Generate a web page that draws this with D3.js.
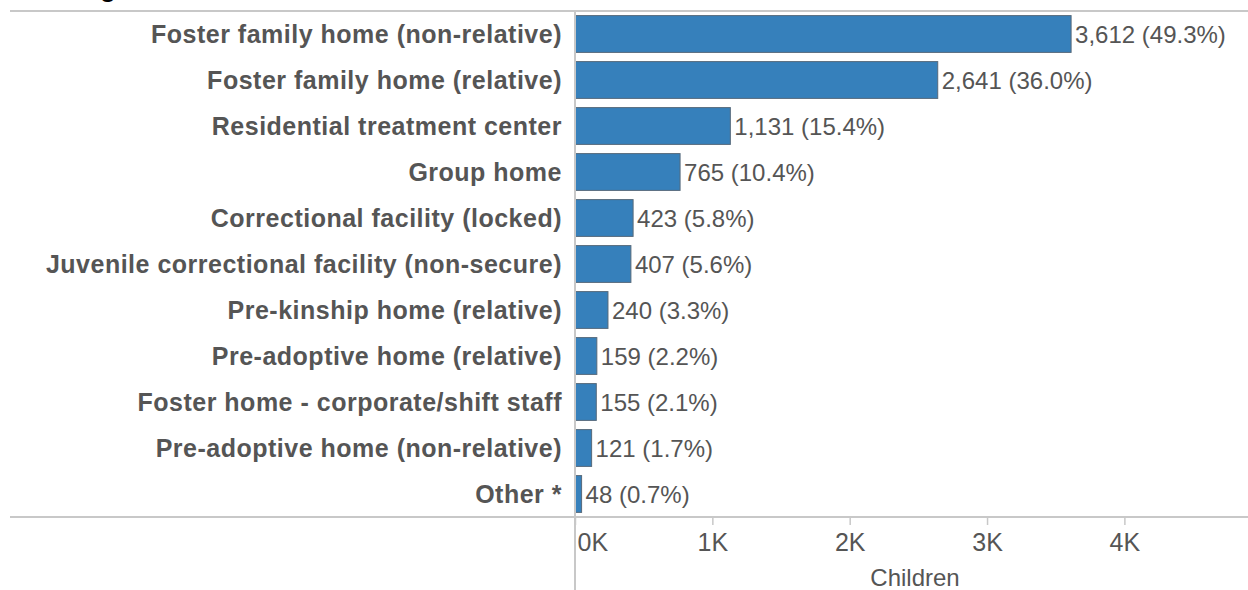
<!DOCTYPE html>
<html>
<head>
<meta charset="utf-8">
<script src="https://cdn.jsdelivr.net/npm/d3@7"></script>
<style>
  body { margin: 0; background: #fff; }
  text { font-family: Arial, "Liberation Sans", sans-serif; }
</style>
</head>
<body>
<script>
var categories = [
  "Foster family home (non-relative)",
  "Foster family home (relative)",
  "Residential treatment center",
  "Group home",
  "Correctional facility (locked)",
  "Juvenile correctional facility (non-secure)",
  "Pre-kinship home (relative)",
  "Pre-adoptive home (relative)",
  "Foster home - corporate/shift staff",
  "Pre-adoptive home (non-relative)",
  "Other *"
];
var children = [3612, 2641, 1131, 765, 423, 407, 240, 159, 155, 121, 48];
var percents = ["49.3%", "36.0%", "15.4%", "10.4%", "5.8%", "5.6%", "3.3%", "2.2%", "2.1%", "1.7%", "0.7%"];
var tickValues = [0, 1000, 2000, 3000, 4000];

var width = 1248,
    height = 590;

var svg = d3.select("body").append("svg")
  .attr("width", width)
  .attr("height", height);

var x = d3.scaleLinear()
  .domain([0, 4900])
  .range([575, 1248]);

var y = d3.scaleBand()
  .domain(categories)
  .range([11, 517])
  .paddingInner(0.2)
  .paddingOuter(0.1);

// cropped title, only the descender shows
svg.append("text")
  .attr("x", 100)
  .attr("y", -3)
  .attr("font-size", 26)
  .attr("font-weight", "bold")
  .attr("fill", "#000")
  .text("g");

// frame lines
svg.append("line")
  .attr("x1", 10).attr("x2", width)
  .attr("y1", 11).attr("y2", 11)
  .attr("stroke", "#c8c8c8").attr("stroke-width", 2);
svg.append("line")
  .attr("x1", 10).attr("x2", width)
  .attr("y1", 517).attr("y2", 517)
  .attr("stroke", "#c8c8c8").attr("stroke-width", 2);

var data = categories.map(function(c, i) {
  return {name: c, value: children[i], pct: percents[i]};
});

svg.append("g")
  .selectAll("rect")
  .data(data)
  .enter()
.append("rect")
  .attr("x", x(0))
  .attr("y", function(d) { return y(d.name); })
  .attr("width", function(d) { return x(d.value) - x(0); })
  .attr("height", y.bandwidth())
  .attr("fill", "#3680bb")
  .attr("stroke", "#56697a")
  .attr("stroke-width", 1);

// category labels
svg.append("g")
  .selectAll("text")
  .data(data)
  .enter()
.append("text")
  .attr("x", 562)
  .attr("y", function(d) { return y(d.name) + y.bandwidth() / 2; })
  .attr("dy", "0.36em")
  .attr("text-anchor", "end")
  .attr("font-size", 25)
  .attr("letter-spacing", 0.5)
  .attr("font-weight", "bold")
  .attr("fill", "#555")
  .text(function(d) { return d.name; });

// value labels
svg.append("g")
  .selectAll("text")
  .data(data)
  .enter()
.append("text")
  .attr("x", function(d) { return x(d.value) + 4; })
  .attr("y", function(d) { return y(d.name) + y.bandwidth() / 2; })
  .attr("dy", "0.36em")
  .attr("font-size", 24)
  .attr("fill", "#555")
  .text(function(d) { return d3.format(",")(d.value) + " (" + d.pct + ")"; });

// x axis
var axis = svg.append("g")
  .attr("transform", "translate(0,517)")
  .call(d3.axisBottom(x)
    .tickValues(tickValues)
    .tickSize(8)
    .tickPadding(8)
    .tickFormat(function(d) { return (d / 1000) + "K"; }));
axis.select(".domain").remove();
axis.selectAll(".tick line").attr("stroke", "#c8c8c8").attr("stroke-width", 1.5);
axis.selectAll(".tick text")
  .attr("font-size", 25)
  .attr("fill", "#555")
  .attr("font-family", "Arial, 'Liberation Sans', sans-serif");
axis.selectAll(".tick text").filter(function(d) { return d === 0; })
  .attr("text-anchor", "start")
  .attr("x", 2);

// vertical axis line
svg.append("line")
  .attr("x1", x(0)).attr("x2", x(0))
  .attr("y1", 11).attr("y2", height)
  .attr("stroke", "#c8c8c8").attr("stroke-width", 2);

svg.append("text")
  .attr("x", 915)
  .attr("y", 586)
  .attr("text-anchor", "middle")
  .attr("font-size", 24)
  .attr("fill", "#555")
  .text("Children");
</script>
</body>
</html>
